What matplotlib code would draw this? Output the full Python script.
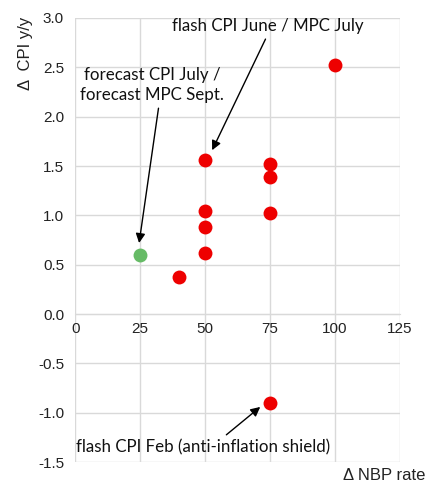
import matplotlib
matplotlib.use("Agg")
import matplotlib.pyplot as plt

# rate change (bp) vs CPI change (pp)
red_x = [40, 50, 50, 50, 50, 75, 75, 75, 100, 75]
red_y = [0.38, 0.62, 0.88, 1.04, 1.56, 1.52, 1.39, 1.02, 2.52, -0.90]
green_x = [25]
green_y = [0.60]

x_ticks = [0, 25, 50, 75, 100, 125]
y_ticks = [-1.5, -1.0, -0.5, 0.0, 0.5, 1.0, 1.5, 2.0, 2.5, 3.0]

fig = plt.figure(figsize=(4.27, 4.84), dpi=100)
ax = fig.add_axes([0.176, 0.045, 0.761, 0.918])

ax.scatter(red_x, red_y, s=100, color="#ee0000", zorder=3, linewidths=0)
ax.scatter(green_x, green_y, s=100, color="#66bb66", zorder=3, linewidths=0)

ax.set_xlim(0, 125)
ax.set_ylim(-1.5, 3.0)
ax.set_xticks(x_ticks)
ax.set_yticks(y_ticks)
ax.set_yticklabels([f"{v:.1f}" for v in y_ticks])
ax.grid(True, color="#d9d9d9", linewidth=1)
ax.set_axisbelow(True)

for s in ["left", "right", "top"]:
    ax.spines[s].set_visible(False)
ax.spines["bottom"].set_position(("data", 0))
ax.spines["bottom"].set_color("#d9d9d9")
ax.tick_params(length=0, labelsize=11, colors="#222222")
ax.tick_params(axis="x", pad=6)
ax.tick_params(axis="y", pad=8)
for lab in ax.get_xticklabels() + ax.get_yticklabels():
    lab.set_fontfamily("Liberation Sans")

note_font = dict(fontsize=12.2, family="Lato", color="#111111")
arrow = dict(arrowstyle="-|>", color="black", lw=1, mutation_scale=14, shrinkA=2, shrinkB=0)

ax.annotate("flash CPI June / MPC July", xy=(52.7, 1.66), xytext=(74.2, 2.92),
            ha="center", va="center", arrowprops=dict(arrow, relpos=(0.5, 0.0)), **note_font)
ax.annotate("forecast CPI July /\nforecast MPC Sept.", xy=(24.6, 0.72), xytext=(29.6, 2.32),
            ha="center", va="center", linespacing=1.25,
            arrowprops=dict(arrow, relpos=(0.55, 0.0)), **note_font)
ax.annotate("flash CPI Feb (anti-inflation shield)", xy=(71.2, -0.94), xytext=(49.2, -1.35),
            ha="center", va="center", arrowprops=dict(arrow, relpos=(0.57, 1.0)), **note_font)

fig.text(0.06, 0.89, "\u0394  CPI y/y", rotation=90, ha="center", va="center",
         fontsize=12, family="Liberation Sans", color="#222222")
fig.text(0.997, 0.017, "\u0394 NBP rate", ha="right", va="center",
         fontsize=12, family="Liberation Sans", color="#222222")

fig.savefig("out.png", dpi=100)
